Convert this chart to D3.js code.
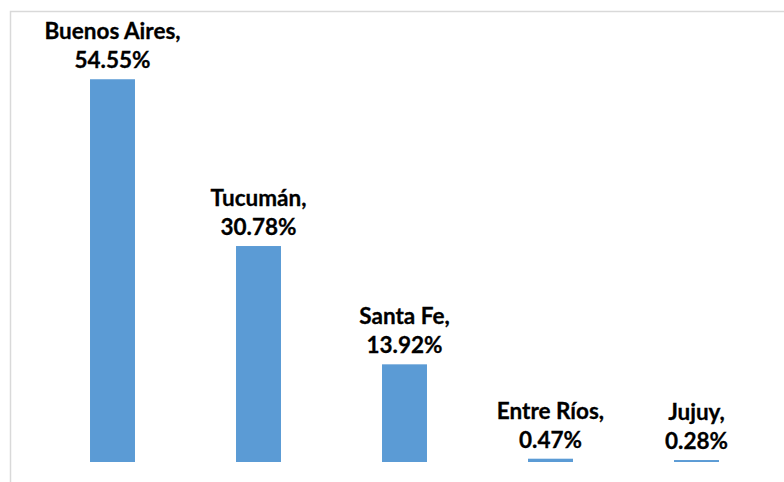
<!DOCTYPE html>
<html>
<head>
<meta charset="utf-8">
<script src="https://cdn.jsdelivr.net/npm/d3@7"></script>
<style>
  html, body { margin: 0; padding: 0; background: #fff; }
  svg { display: block; }
</style>
</head>
<body>
<svg id="chart" width="784" height="482"></svg>
<script>
const provinces = ["Buenos Aires", "Tucumán", "Santa Fe", "Entre Ríos", "Jujuy"];
const shares = [54.55, 30.78, 13.92, 0.47, 0.28];
const valueLabels = ["54.55%", "30.78%", "13.92%", "0.47%", "0.28%"];

const svg = d3.select("#chart");
const W = 784, H = 482;

// chart frame (cropped at right and bottom)
svg.append("rect")
  .attr("x", 10.5).attr("y", 11.5)
  .attr("width", W + 20).attr("height", H + 20)
  .attr("fill", "#fff")
  .attr("stroke", "#d9d9d9").attr("stroke-width", 1.5);

const x = d3.scaleBand()
  .domain(provinces)
  .range([39.5, 769.5])
  .paddingInner(0.692)
  .paddingOuter(0.346);

const y = d3.scaleLinear().domain([0, 60]).range([462, 41]);

const data = provinces.map((p, i) => ({ p, v: shares[i], lab: valueLabels[i] }));

svg.append("g").selectAll("rect")
  .data(data).join("rect")
  .attr("x", d => x(d.p))
  .attr("y", d => y(d.v))
  .attr("width", x.bandwidth())
  .attr("height", d => y(0) - y(d.v))
  .attr("fill", "#5b9bd5");

const lab = svg.append("g")
  .attr("font-family", "Lato, 'Open Sans', sans-serif")
  .attr("font-weight", "bold")
  .attr("font-size", 22.5)
  .attr("fill", "#000")
  .attr("stroke", "#000")
  .attr("stroke-width", 0.3)
  .attr("text-anchor", "middle");

data.forEach(d => {
  const cx = x(d.p) + x.bandwidth() / 2;
  const base = y(d.v) - 11;
  lab.append("text").attr("x", cx).attr("y", base - 29).text(d.p + ",");
  lab.append("text").attr("x", cx).attr("y", base).text(d.lab);
});
</script>
</body>
</html>
